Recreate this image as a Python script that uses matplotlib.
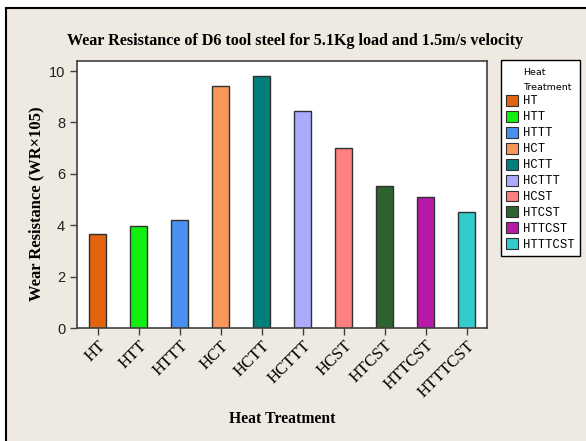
import matplotlib
matplotlib.use("Agg")
import matplotlib.pyplot as plt
from matplotlib.patches import Patch
from matplotlib.lines import Line2D

categories = ["HT", "HTT", "HTTT", "HCT", "HCTT", "HCTTT", "HCST", "HTCST", "HTTCST", "HTTTCST"]
values = [3.66, 3.98, 4.22, 9.41, 9.80, 8.43, 7.00, 5.54, 5.10, 4.53]
colors = ["#E2640F", "#11F011", "#4A90F0", "#F9975A", "#00807C",
          "#AAAAFF", "#FF8080", "#2E6231", "#B81AA8", "#33CCCC"]
yticks = [0, 2, 4, 6, 8, 10]

BG = "#EEEAE2"
fig = plt.figure(figsize=(5.86, 4.41), dpi=100, facecolor="white")
W, H = 586, 441
fig.patches.append(plt.Rectangle((6 / W, 0), 1, 1 - 8 / H, transform=fig.transFigure,
                                 facecolor=BG, edgecolor="none", zorder=-2))
fig.lines.append(Line2D([6 / W, 1], [1 - 8 / H, 1 - 8 / H], transform=fig.transFigure,
                        color="black", lw=1.5))
fig.lines.append(Line2D([6 / W, 6 / W], [0, 1 - 8 / H], transform=fig.transFigure,
                        color="black", lw=1.5))

ax = fig.add_axes([77 / W, 1 - 328 / H, 410 / W, 267 / H])
ax.set_facecolor("white")
x = list(range(len(categories)))
ax.bar(x, values, width=0.4, color=colors, edgecolor="#303030", linewidth=1.0, zorder=2)
ax.set_xlim(-0.5, 9.5)
ax.set_ylim(0, 10.39)
ax.set_yticks(yticks)
ax.set_yticklabels([str(t) for t in yticks], fontfamily="Liberation Sans", fontsize=10.5,
                   color="#202020")
ax.set_xticks(x)
ax.set_xticklabels(categories, rotation=45, ha="right", rotation_mode="anchor",
                   fontfamily="Liberation Serif", fontsize=12)
ax.tick_params(axis="both", direction="out", length=5, color="#404040", width=1)
ax.tick_params(axis="x", pad=2)
for s in ax.spines.values():
    s.set_color("#404040")
    s.set_linewidth(1.2)

fig.text(295 / W, 1 - 41 / H, "Wear Resistance of D6 tool steel for 5.1Kg load and 1.5m/s velocity",
         ha="center", va="center", fontfamily="Liberation Serif", fontweight="bold", fontsize=11.6)
fig.text(36 / W, 1 - 204 / H, "Wear Resistance (WR\u00d7105)", rotation=90,
         ha="center", va="center", fontfamily="Liberation Serif", fontweight="bold", fontsize=11.9)
fig.text(282 / W, 1 - 419 / H, "Heat Treatment", ha="center", va="center",
         fontfamily="Liberation Serif", fontweight="bold", fontsize=11.3)

handles = [Patch(facecolor="none", edgecolor="none"), Patch(facecolor="none", edgecolor="none")]
handles += [Patch(facecolor=c, edgecolor="#303030", linewidth=0.8) for c in colors]
labels = ["Heat", "Treatment"] + categories
leg = fig.legend(handles, labels, loc="upper left", bbox_to_anchor=(501 / W, 1 - 60 / H),
                 bbox_transform=fig.transFigure, borderaxespad=0,
                 prop={"family": "Liberation Mono", "size": 8.8},
                 frameon=True, fancybox=False, edgecolor="black", framealpha=1,
                 handlelength=0.95, handleheight=1.0, handletextpad=0.45,
                 labelspacing=0.27, borderpad=0.4)
leg.get_frame().set_linewidth(1.0)
for t in leg.get_texts()[:2]:
    t.set_fontfamily("DejaVu Sans")
    t.set_fontsize(6.8)

fig.savefig("out.png", dpi=100, facecolor=fig.get_facecolor())
